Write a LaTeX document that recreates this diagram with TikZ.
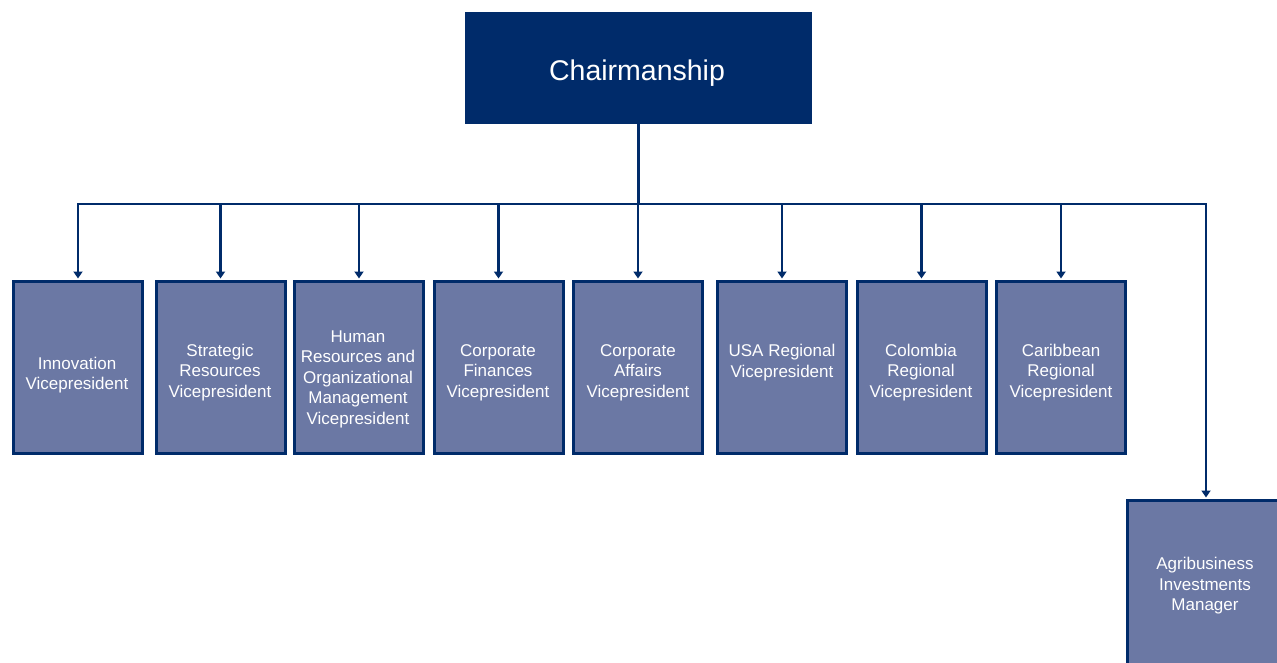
\documentclass[tikz,border=0pt]{standalone}
\usepackage{fontspec}
\setmainfont{Liberation Sans}
\usetikzlibrary{arrows.meta}
\definecolor{navy}{RGB}{0,43,106}
\definecolor{boxfill}{RGB}{107,120,164}
\begin{document}
\begin{tikzpicture}[x=1pt,y=-1pt,
  topbox/.style={fill=navy, draw=none, minimum width=347pt, minimum height=112pt, inner sep=0pt, outer sep=0pt},
  unitbox/.style={fill=boxfill, draw=navy, line width=3pt, inner sep=0pt, minimum width=129pt, minimum height=172pt},
  lbl/.style={text=white, align=center, font=\fontsize{17}{20.5}\selectfont, inner sep=0pt},
  conn/.style={draw=navy, line width=2.8pt},
  arr/.style={conn, -{Triangle[width=9pt,length=7pt]}, shorten >=1.5pt}]
\useasboundingbox (0,0) rectangle (1277,663);
\clip (0,0) rectangle (1277,663);
\node[topbox] (chair) at (638.5,68) {};
\node[text=white, font=\fontsize{28.5}{34}\selectfont, anchor=base, inner sep=0pt] (chairlbl) at (637,81) {Chairmanship};

\node[unitbox] (b1) at (78,367.5) {};
\node[unitbox] (b2) at (220.5,367.5) {};
\node[unitbox] (b3) at (359,367.5) {};
\node[unitbox] (b4) at (498.5,367.5) {};
\node[unitbox] (b5) at (638,367.5) {};
\node[unitbox] (b6) at (782,367.5) {};
\node[unitbox] (b7) at (921.5,367.5) {};
\node[unitbox] (b8) at (1061,367.5) {};
\node[unitbox, minimum width=197pt, minimum height=169pt] (b9) at (1226,585) {};

\node[lbl] (l1) at (77,375) {Innovation\\Vicepresident};
\node[lbl] (l2) at (220,372.5) {Strategic\\Resources\\Vicepresident};
\node[lbl] (l3) at (358,379) {Human\\Resources and\\Organizational\\Management\\Vicepresident};
\node[lbl] (l4) at (498,372.5) {Corporate\\Finances\\Vicepresident};
\node[lbl] (l5) at (638,372.5) {Corporate\\Affairs\\Vicepresident};
\node[lbl] (l6) at (782,362.5) {USA Regional\\Vicepresident};
\node[lbl] (l7) at (921,372.5) {Colombia\\Regional\\Vicepresident};
\node[lbl] (l8) at (1061,372.5) {Caribbean\\Regional\\Vicepresident};
\node[lbl] (l9) at (1205,586) {Agribusiness\\Investments\\Manager};

\coordinate (bus) at (638,204);
\draw[conn] (chair.south) -- (chair.south |- bus);
\foreach \b in {b1,b2,b3,b4,b5,b6,b7,b8}
  \draw[arr] (bus) -| (\b.north);
\draw[arr] (bus) -| ([xshift=80pt]b9.north west);
\end{tikzpicture}
\end{document}
